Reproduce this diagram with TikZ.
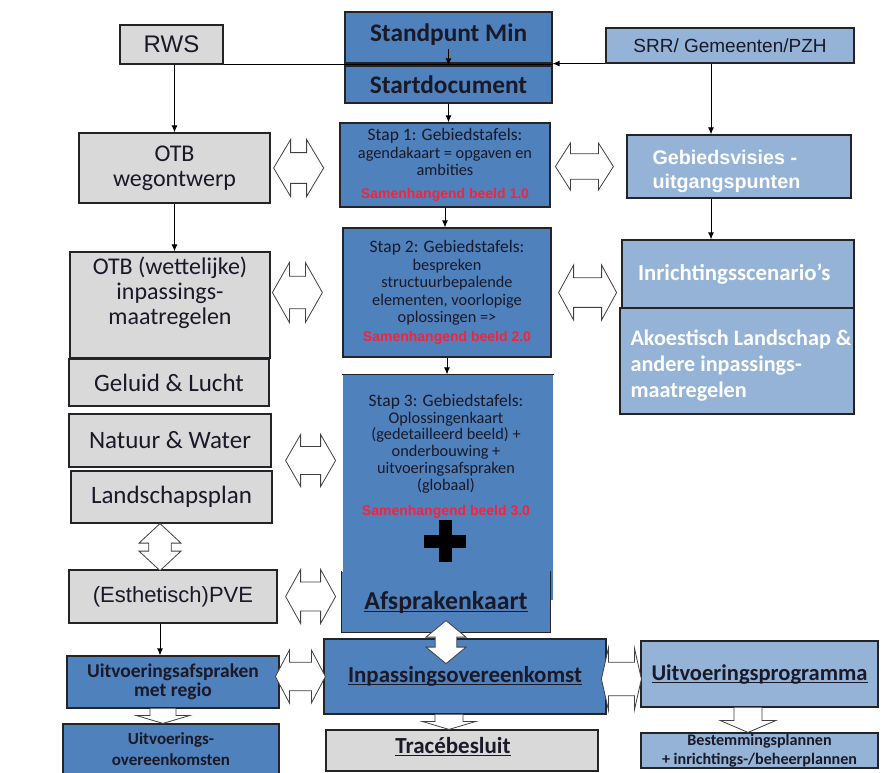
\documentclass[tikz,border=0pt]{standalone}
\usepackage{fontspec}
\setmainfont{Carlito}
\newfontfamily\arial{Liberation Sans}
\usetikzlibrary{arrows.meta, calc}

\definecolor{grayfill}{RGB}{217,217,217}
\definecolor{bluefill}{RGB}{79,129,189}
\definecolor{lightfill}{RGB}{149,179,215}
\definecolor{boxline}{RGB}{35,35,40}
\definecolor{txtdark}{RGB}{25,25,40}
\definecolor{samred}{RGB}{245,35,60}

\newcommand\fs[2]{\fontsize{#1}{#2}\selectfont}
\newcommand\sam[1]{{\arial\bfseries\fontsize{14}{17.5}\selectfont\color{samred}#1}}
\newcommand\staptitle[1]{{\fontsize{17.5}{17.5}\selectfont #1}}
\newsavebox\undlbox
\newcommand\undl[1]{\sbox\undlbox{#1}\rlap{\rule[-2.8pt]{\wd\undlbox}{1.2pt}}\usebox\undlbox}

% white block arrows: centre, half length, half height, head length
\newcommand\DblH[4]{%
  \coordinate (dc) at (#1);
  \draw[blockarr] ([xshift=-#2]dc) -- ++(#4,-#3) -- ++(0,0.46*#3) -- ++(2*#2-2*#4,0) -- ++(0,-0.46*#3) -- ++(#4,#3) -- ++(-#4,#3) -- ++(0,-0.46*#3) -- ++(-2*#2+2*#4,0) -- ++(0,0.46*#3) -- cycle;}
\newcommand\DblV[4]{%
  \coordinate (dc) at (#1);
  \draw[blockarr] ([yshift=#2]dc) -- ++(-#3,#4) -- ++(0.46*#3,0) -- ++(0,2*#2-2*#4) -- ++(-0.46*#3,0) -- ++(#3,#4) -- ++(#3,-#4) -- ++(-0.46*#3,0) -- ++(0,-2*#2+2*#4) -- ++(0.46*#3,0) -- cycle;}
% top, node below, shaft half width, head half width, head length
\newcommand\BlockDown[5]{%
  \draw[blockarr] let \p1=(#1), \p2=(#2) in (\x1-#3pt,\y1) -- (\x1-#3pt,\y2+#5pt) -- (\x1-#4pt,\y2+#5pt) -- (\x1,\y2) -- (\x1+#4pt,\y2+#5pt) -- (\x1+#3pt,\y2+#5pt) -- (\x1+#3pt,\y1);}

\begin{document}
\begin{tikzpicture}[x=1pt, y=-1pt,
    box/.style={draw=boxline, line width=1.2pt, inner sep=0pt, align=center, text=txtdark},
    graybox/.style={box, fill=grayfill},
    bluebox/.style={box, fill=bluefill},
    lightbox/.style={box, fill=lightfill, text=white},
    arr/.style={-{Latex[length=7pt,width=6pt]}, line width=0.9pt},
    blockarr/.style={draw=black!75, fill=white, line width=0.8pt}]

    \useasboundingbox (0,0) rectangle (890,772);

    % top row
    \node[graybox, minimum width=103, minimum height=39, font=\arial\fs{24}{26}] (rws) at (171.5,44.5) {RWS};
    \node[bluebox, minimum width=207, minimum height=51] (min) at (448.5,37.5) {};
    \node[font=\bfseries\fs{25.3}{27}, text=txtdark] (mintxt) at (448.5,34.5) {Standpunt Min};
    \node[bluebox, minimum width=207, minimum height=37, font=\bfseries\fs{25.3}{27}] (start) at (448.5,84.5) {Startdocument};
    \node[lightbox, text=txtdark, minimum width=248, minimum height=35, font=\arial\fs{19}{21}] (srr) at (730,45.5) {SRR/ Gemeenten/PZH};

    % centre column
    \node[bluebox, minimum width=210, minimum height=84, font=\fs{16.3}{17.5}] (stap1) at (445,165)
        {\staptitle{Stap 1: Gebiedstafels:}\\agendakaart = opgaven en\\ambities\\[5pt]\sam{Samenhangend beeld 1.0}};
    \node[bluebox, minimum width=208, minimum height=129, font=\fs{16.3}{17.5}] (stap2) at (447,292.5)
        {\staptitle{Stap 2: Gebiedstafels:}\\bespreken\\structuurbepalende\\elementen, voorlopige\\oplossingen =>\\[1pt]\sam{Samenhangend beeld 2.0}};
    \node[bluebox, draw=none, minimum width=210, minimum height=225] (stap3) at (448,487.5) {};
    \draw[line width=1.2pt, draw=boxline] (stap3.north west) -- (stap3.north east);
    \node[font=\fs{16.3}{16.8}, align=center, text=txtdark] (stap3txt) at (446,456)
        {\staptitle{Stap 3: Gebiedstafels:}\\Oplossingenkaart\\(gedetailleerd beeld) +\\onderbouwing +\\uitvoeringsafspraken\\(globaal)\\[8pt]\sam{Samenhangend beeld 3.0}};
    \coordinate (plus) at ([xshift=-3,yshift=-53.5]stap3.center);
    \fill ([xshift=-21,yshift=-6.5]plus) rectangle ([xshift=21,yshift=6.5]plus);
    \fill ([xshift=-6.5,yshift=-21]plus) rectangle ([xshift=6.5,yshift=21]plus);
    \node[bluebox, draw=none, minimum width=208, minimum height=60, font=\bfseries\fs{25.8}{27}] (afspr) at (446,602) {\undl{Afsprakenkaart}};
    \draw[line width=1.2pt, draw=boxline] (afspr.north west) -- (afspr.south west) -- (afspr.south east) -- (afspr.north east);
    \node[bluebox, minimum width=282, minimum height=75, font=\bfseries\fs{22.9}{24}] (inpas) at (465,676.5) {\undl{Inpassingsovereenkomst}};
    \node[graybox, minimum width=272, minimum height=41] (trace) at (462,750.5) {};
    \node[font=\bfseries\fs{23}{24}, text=txtdark] (tracetxt) at (453,747) {\undl{Tracébesluit}};

    % left column
    \node[graybox, minimum width=191, minimum height=70, font=\fs{24}{25}] (otb) at (174.5,168) {OTB\\wegontwerp};
    \node[graybox, minimum width=200, minimum height=106] (otbw) at (170,305) {};
    \node[font=\fs{24}{25}, align=center, text=txtdark] (otbwtxt) at (170,293) {OTB (wettelijke)\\inpassings-\\maatregelen};
    \node[graybox, minimum width=200, minimum height=47, font=\fs{25}{26}] (geluid) at (169,382.5) {Geluid \& Lucht};
    \node[graybox, minimum width=202, minimum height=53, font=\fs{25}{26}] (natuur) at (170,440.5) {Natuur \& Water};
    \node[graybox, minimum width=201, minimum height=52, font=\fs{25}{26}] (landschap) at (171.5,497) {Landschapsplan};
    \node[graybox, minimum width=208, minimum height=53, font=\arial\fs{22}{24}] (pve) at (173,596.5) {(Esthetisch)PVE};
    \node[bluebox, minimum width=212, minimum height=52, font=\bfseries\fs{19.5}{19.5}] (uafsp) at (173,682) {Uitvoeringsafspraken\\met regio};
    \node[bluebox, minimum width=216, minimum height=50, font=\bfseries\fs{17}{21}] (uovk) at (171,749) {Uitvoerings-\\overeenkomsten};

    % right column
    \node[lightbox, minimum width=224, minimum height=63] (gebv) at (739,166.5) {};
    \node[anchor=west, align=left, text=white, font=\arial\bfseries\fs{19.7}{24}] (gebvtxt) at (649,171) {Gebiedsvisies -\\uitgangspunten};
    \node[lightbox, minimum width=232, minimum height=68, text width=200, inner xsep=16, align=left, font=\bfseries\fs{22.8}{26}] (inr) at (738,274) {Inrichtingsscenario’s};
    \node[lightbox, minimum width=234, minimum height=106] (akoe) at (737,361) {};
    \node[anchor=west, align=left, text=white, font=\bfseries\fs{22.2}{26}] (akoetxt) at (627,366) {Akoestisch Landschap \&\\andere inpassings-\\maatregelen};
    \node[lightbox, text=txtdark, minimum width=237, minimum height=66, font=\bfseries\fs{22.5}{24}] (uprog) at (759.5,674) {\undl{Uitvoeringsprogramma}};
    \node[lightbox, text=txtdark, minimum width=237, minimum height=35, font=\bfseries\fs{16.1}{19}] (best) at (759.5,750.5) {Bestemmingsplannen\\+ inrichtings-/beheerplannen};

    % line arrows
    \coordinate (rline) at (711,0);
    \coordinate (pvedown) at ([xshift=-13]pve.south);
    \draw[line width=0.9pt] (rws.south east) -- (rws.south east -| min.south east);
    \draw[arr] ([yshift=15]min.south) -- (start.north);
    \draw[arr] (srr.south west) -- (srr.south west -| start.east);
    \draw[arr] (start.south) -- (stap1.north -| start.south);
    \draw[arr] (stap1.south) -- (stap2.north -| stap1.south);
    \draw[arr] (stap2.south) -- (stap3.north -| stap2.south);
    \draw[arr] (rws.south -| otb.north) -- (otb.north);
    \draw[arr] (otb.south) -- (otbw.north -| otb.south);
    \draw[arr] (pvedown) -- (pvedown |- uafsp.north);
    \draw[arr] (srr.south -| rline) -- (gebv.north -| rline);
    \draw[arr] (gebv.south -| rline) -- (inr.north -| rline);

    % block arrows
    \DblH{[xshift=28]otb.east}{25}{28.5}{17}
    \DblH{[xshift=-45]stap2.west}{25}{30}{17}
    \DblH{[xshift=39,yshift=-20]natuur.east}{25}{26}{15}
    \DblH{[xshift=33]pve.east}{25}{27}{15}
    \DblH{[xshift=-23]inpas.west}{25}{26.5}{14}
    \DblH{[xshift=-42]gebv.west}{29}{23.5}{15}
    \DblH{[xshift=36]stap2.east}{29}{27.5}{15}
    \DblH{[xshift=-19,yshift=-5]uprog.west}{20}{31}{7}
    \DblV{[xshift=-11.5,yshift=-23.5]landschap.south}{23.5}{21}{19.5}
    \DblV{[yshift=-9.5]afspr.south}{21.5}{20}{16.5}
    \BlockDown{[xshift=-10]uafsp.south}{uovk.north}{13}{27}{8}
    \BlockDown{[xshift=-16]inpas.south}{trace.north}{14}{27}{8}
    \BlockDown{[xshift=-11.5]uprog.south}{best.north}{14}{28}{12}
\end{tikzpicture}
\end{document}
